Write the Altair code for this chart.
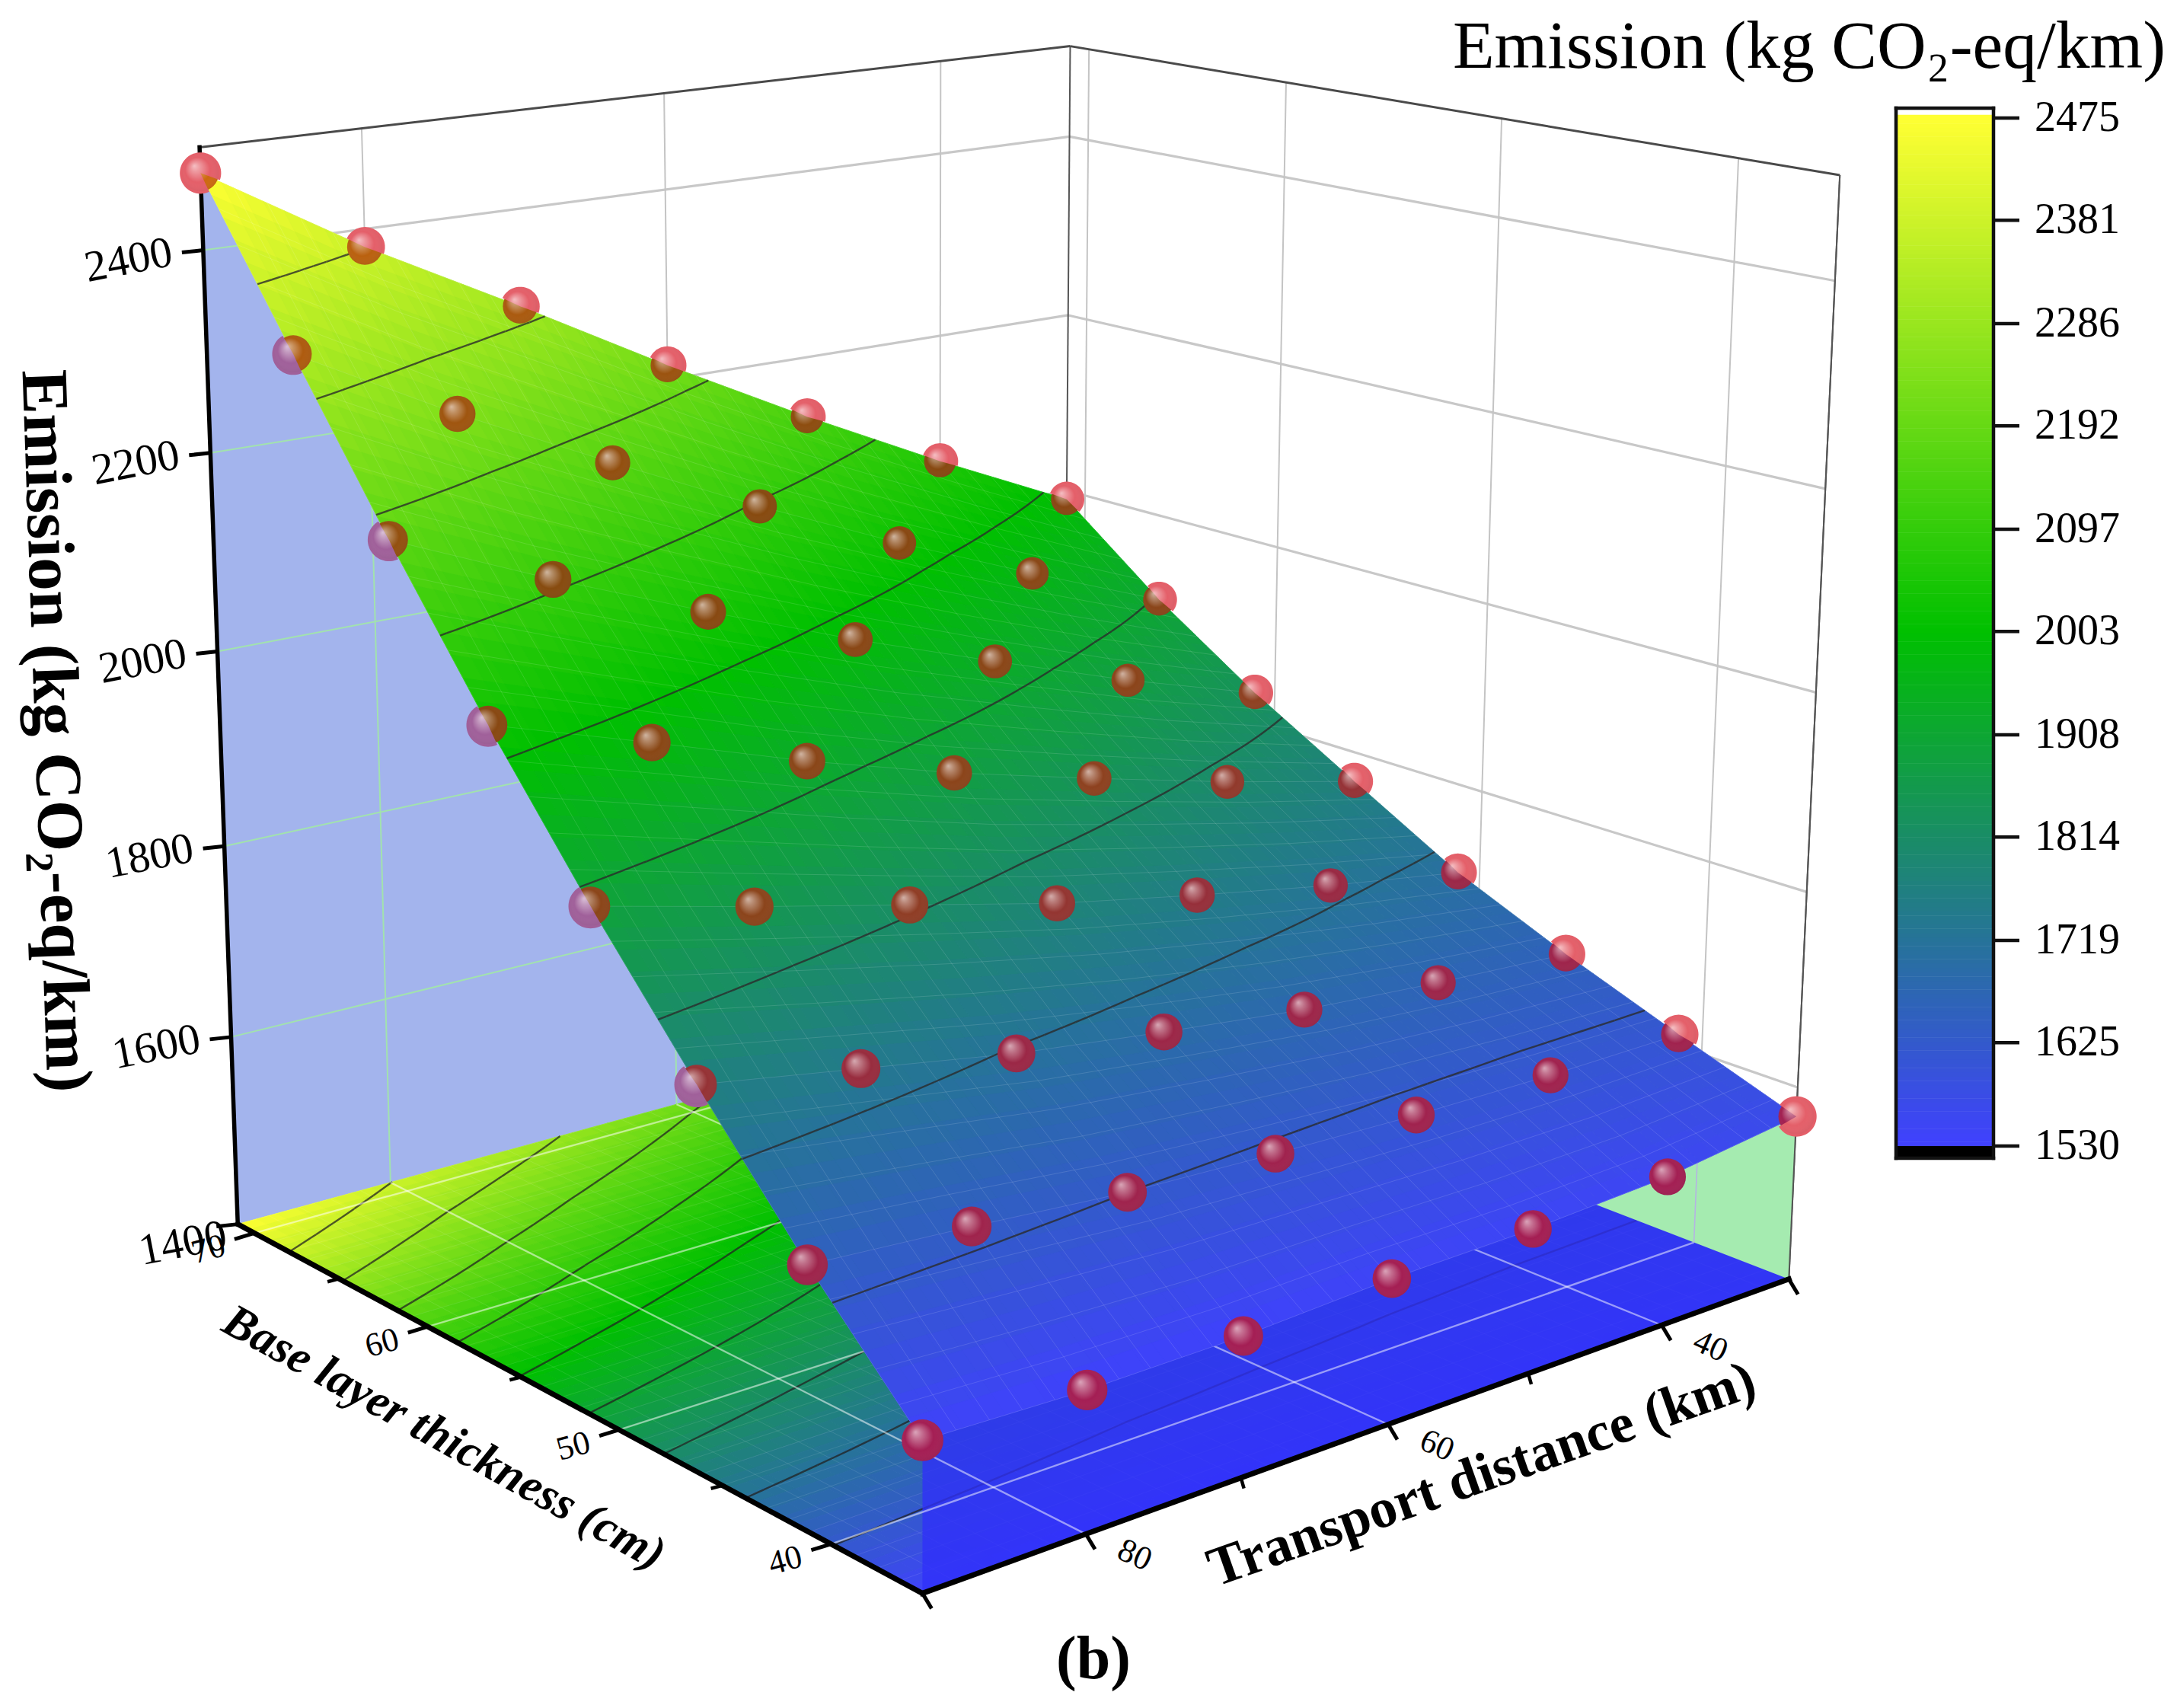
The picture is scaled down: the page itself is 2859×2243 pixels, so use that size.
import altair as alt
import numpy as np
import pandas as pd

# ---------- data ----------
TRANSPORT = [90, 80, 70, 60, 50, 40, 30]
THICKNESS = [71, 66, 61, 56, 51, 46, 41, 36]
E_71 = [2475, 2382, 2300, 2215, 2135, 2060, 1990]
E_66 = [2323, 2240, 2165, 2093, 2026, 1964, 1905]
E_61 = [2172, 2105, 2043, 1984, 1930, 1878, 1832]
E_56 = [2028, 1978, 1926, 1880, 1840, 1802, 1768]
E_51 = [1894, 1856, 1820, 1784, 1755, 1728, 1705]
E_46 = [1769, 1742, 1715, 1695, 1677, 1665, 1656]
E_41 = [1649, 1638, 1625, 1618, 1613, 1611, 1612]
E_36 = [1540, 1535, 1536, 1543, 1545, 1552, 1570]
EMISSION = np.array([E_71, E_66, E_61, E_56, E_51, E_46, E_41, E_36], float)
Z_TICKS = [2400, 2200, 2000, 1800, 1600, 1400]
T_MAJOR = [80, 60, 40]
T_MINOR = [70, 50]
B_MAJOR = [70, 60, 50, 40]
B_MINOR = [65, 55, 45]
BAR_TICKS = [2475, 2381, 2286, 2192, 2097, 2003, 1908, 1814, 1719, 1625, 1530]

# ---------- view of the 3D box ----------
CAMERA = np.array([
    [0.3411685354683661, 0.18839930951782624, 0.017199080461357256, -0.6796826403815752],
    [-0.03146208229411297, 0.039176098167953796, 0.38168638088282353, -0.4874792710496089],
    [3.645305119040625e-05, -4.33529491030292e-05, 1.4353076112809526e-05, -0.0005146028018720097]])
T0, T1, B0, B1, Z0, Z1 = 30, 90, 36, 71, 1400, 2500


def proj(t, b, z):
    h = CAMERA @ np.array([(t - 60) / 30, (b - 53.5) / 17.5, (z - 1950) / 550, 1.0])
    return float(h[0] / h[2]), float(h[1] / h[2]), float(abs(h[2]))


def xy(t, b, z):
    return list(proj(t, b, z)[:2])


def seg(a, b, dx=0, dy=0):
    p, q = xy(*a), xy(*b)
    return dict(x=p[0], y=p[1], x2=q[0] + dx, y2=q[1] + dy)


# bilinear read-out of the table, cell by cell, for the fine mesh
def E_at(t, b):
    u = np.clip((T1 - t) / 10, 0, 5.9999)
    v = np.clip((B1 - b) / 5, 0, 6.9999)
    j, i = int(u), int(v)
    fu, fv = u - j, v - i
    M = EMISSION
    return float(M[i, j] * (1 - fu) * (1 - fv) + M[i, j + 1] * fu * (1 - fv) + M[i + 1, j] * (1 - fu) * fv + M[i + 1, j + 1] * fu * fv)


N = 8
ts_f = np.linspace(T1, T0, 6 * N + 1)
bs_f = np.linspace(B1, B0, 7 * N + 1)
E_f = np.array([[E_at(t, b) for t in ts_f] for b in bs_f])


def poly(points, **props):
    pts = list(points) + [points[0]]
    return dict(type="Feature", properties=props, geometry=dict(type="Polygon", coordinates=[pts]))


surf_feats, floor_feats = [], []
for i in range(len(bs_f) - 1):
    for j in range(len(ts_f) - 1):
        e = float(E_f[i:i + 2, j:j + 2].mean())
        c = [(i, j), (i, j + 1), (i + 1, j + 1), (i + 1, j)]
        surf_feats.append(poly([xy(ts_f[b], bs_f[a], E_f[a, b]) for a, b in c], E=e))
        floor_feats.append(poly([xy(ts_f[b], bs_f[a], Z0) for a, b in c], E=e))


def contours(floor=False):
    rows = []
    for tick in BAR_TICKS[1:-1]:
        lev = tick + 0.0137  # keeps a level from landing exactly on a mesh vertex
        for i in range(len(bs_f) - 1):
            for j in range(len(ts_f) - 1):
                c = [(i, j), (i, j + 1), (i + 1, j + 1), (i + 1, j)]
                pts = []
                for k in range(4):
                    a, b = c[k], c[(k + 1) % 4]
                    ea, eb = E_f[a], E_f[b]
                    if (ea - lev) * (eb - lev) < 0:
                        f = (lev - ea) / (eb - ea)
                        t = ts_f[a[1]] + f * (ts_f[b[1]] - ts_f[a[1]])
                        bb = bs_f[a[0]] + f * (bs_f[b[0]] - bs_f[a[0]])
                        pts.append(xy(t, bb, Z0 if floor else lev))
                if len(pts) >= 2:
                    rows.append(dict(x=pts[0][0], y=pts[0][1], x2=pts[1][0], y2=pts[1][1]))
    return rows


def mesh(floor=False):
    rows = []
    tk = np.linspace(T1, T0, 31)
    bk = np.linspace(B1, B0, 36)
    zf = (lambda t, b: Z0) if floor else E_at
    for b in bk:
        for a, c in zip(TRANSPORT[:-1], TRANSPORT[1:]):
            rows.append(seg((a, b, zf(a, b)), (c, b, zf(c, b))))
    for t in tk:
        for a, c in zip(THICKNESS[:-1], THICKNESS[1:]):
            rows.append(seg((t, a, zf(t, a)), (t, c, zf(t, c))))
    return rows


# ---------- scales: plain page coordinates, less the 8px page margin ----------
W, H = 2859, 2243
sx = alt.Scale(domain=[8, W - 8], nice=False, zero=False)
sy = alt.Scale(domain=[H - 8, 8], nice=False, zero=False)
PROJ = dict(type="identity", scale=1, translate=[-8, -8])
cmap = alt.Scale(domain=[1530, 2003, 2475], range=["#4040ff", "#00c000", "#ffff33"], clamp=True, interpolate="rgb")
FONT = "Liberation Serif"


def rules(rows, color, width, opacity=1.0, cap="butt"):
    return alt.Chart(pd.DataFrame(rows)).mark_rule(color=color, strokeWidth=width, opacity=opacity, strokeCap=cap).encode(
        x=alt.X("x:Q", scale=sx, axis=None), y=alt.Y("y:Q", scale=sy, axis=None), x2="x2:Q", y2="y2:Q")


def shapes(feats, layer_opacity=1.0, stroke=True):
    ch = alt.Chart(alt.Data(values=feats)).mark_geoshape(opacity=layer_opacity, strokeWidth=1.0 if stroke else 0).project(**PROJ)
    enc = dict(color=alt.Color("properties.E:Q", scale=cmap, legend=None))
    if stroke:
        enc["stroke"] = alt.Stroke("properties.E:Q", scale=cmap, legend=None)
    return ch.encode(**enc)


def flat(feats, fill, opacity=1.0):
    return alt.Chart(alt.Data(values=feats)).mark_geoshape(fill=fill, stroke=None, opacity=opacity).project(**PROJ)


def text(rows, size, angle=0, weight="normal", style="normal", align="center"):
    return alt.Chart(pd.DataFrame(rows)).mark_text(
        font=FONT, fontSize=size, angle=angle % 360, fontWeight=weight, fontStyle=style, align=align, baseline="middle", color="black"
    ).encode(x=alt.X("x:Q", scale=sx, axis=None), y=alt.Y("y:Q", scale=sy, axis=None), text="s:N")


layers = []

# --- back walls
wall = []
for z in Z_TICKS[:-1]:
    wall.append(seg((T1, B1, z), (T0, B1, z)))
    wall.append(seg((T0, B1, z), (T0, B0, z)))
layers.append(rules(wall, "#c8c8c8", 3.2))
wall_v = [seg((t, B1, Z0), (t, B1, Z1)) for t in T_MAJOR] + [seg((T0, b, Z0), (T0, b, Z1)) for b in B_MAJOR]
layers.append(rules(wall_v, "#c4c4c4", 2))
layers.append(rules([seg((T0, B1, Z0), (T0, B1, Z1)), seg((T0, B0, Z0), (T0, B0, Z1))], "#555555", 2))
layers.append(rules([seg((T1, B1, Z1), (T0, B1, Z1)), seg((T0, B1, Z1), (T0, B0, Z1))], "#4a4a4a", 3))

# --- projection of the surface edge on the left wall
left_wall = [xy(t, B1, e) for t, e in zip(TRANSPORT, EMISSION[0])] + [xy(T0, B1, Z0), xy(T1, B1, Z0)]
right_wall = [xy(T0, b, e) for b, e in zip(THICKNESS, EMISSION[:, -1])] + [xy(T0, B0, Z0), xy(T0, B1, Z0)]
layers.append(flat([poly(left_wall)], "#a3b4ed"))

edge_t = np.array(TRANSPORT[::-1], float)
edge_e = EMISSION[0][::-1]
edge_b = np.array(THICKNESS[::-1], float)
edge_r = EMISSION[:, -1][::-1]
greens, lav = [], []
for z in Z_TICKS[:-1]:
    if z < edge_e.max():
        tz = float(np.interp(z, edge_e, edge_t)) if z > edge_e.min() else T0
        greens.append(seg((tz, B1, z), (T1, B1, z)))
    if z < edge_r.max():
        bz = float(np.interp(z, edge_r, edge_b)) if z > edge_r.min() else B0
        lav.append(seg((T0, bz, z), (T0, B1, z)))
for t in T_MAJOR:
    greens.append(seg((t, B1, Z0), (t, B1, E_at(t, B1))))
for b in B_MAJOR:
    lav.append(seg((T0, b, Z0), (T0, b, E_at(T0, b))))
layers.append(rules(greens, "#a2e2ae", 2))

# --- floor map
layers.append(shapes(floor_feats))
layers.append(rules(mesh(True), "#ffffff", 1, 0.10))
layers.append(rules(contours(True), "#222222", 2.4, 0.75))

# --- skirt along the thin edge
skirt = [xy(t, B0, e) for t, e in zip(TRANSPORT, EMISSION[-1])] + [xy(T0, B0, Z0), xy(T1, B0, Z0)]
layers.append(flat([poly(skirt)], "#3030f8", 0.78))
floor_grid = [seg((t, B0, Z0), (t, B1, Z0)) for t in T_MAJOR] + [seg((T0, b, Z0), (T1, b, Z0)) for b in B_MAJOR]
layers.append(rules(floor_grid, "#ffffff", 2.4, 0.5))

# --- projection on the right wall, painted after the skirt
layers.append(flat([poly(right_wall)], "#a5ebb0"))
layers.append(rules(lav, "#b4b4e2", 1.6))
layers.append(rules([seg((T0, B0, Z0), (T0, B0, Z1))], "#555555", 2))

# --- axes
layers.append(rules([seg((T1, B1, Z1), (T1, B1, Z0))], "black", 5.5, cap="square"))
layers.append(rules([seg((T1, B1, Z0), (T1, B0, Z0)), seg((T1, B0, Z0), (T0, B0, Z0))], "black", 7, cap="square"))
ticks = [seg((T1, B1, z), (T1, B1, z), -28, 3) for z in Z_TICKS]
ticks += [seg((t, B0, Z0), (t, B0, Z0), 12, 20) for t in T_MAJOR + [T1, T0]]
ticks += [seg((T1, b, Z0), (T1, b, Z0), -26, 8) for b in B_MAJOR]
layers.append(rules(ticks, "black", 5))
minor = [seg((t, B0, Z0), (t, B0, Z0), 4, 14) for t in T_MINOR]
minor += [seg((T1, b, Z0), (T1, b, Z0), -15, 4) for b in B_MINOR]
layers.append(rules(minor, "black", 4.5))

# --- surface
layers.append(shapes(surf_feats))
layers.append(rules(mesh(False), "#ffffff", 1, 0.13))
layers.append(rules(contours(False), "#2a2a2a", 2.4, 0.8))

# --- spheres
outline = ([xy(t, B1, e) for t, e in zip(TRANSPORT, EMISSION[0])]
           + [xy(T0, b, e) for b, e in zip(THICKNESS, EMISSION[:, -1])]
           + [xy(t, B0, e) for t, e in zip(TRANSPORT[::-1], EMISSION[-1][::-1])]
           + [xy(T1, b, e) for b, e in zip(THICKNESS[::-1], EMISSION[:, 0][::-1])])


def inside(p):
    c = False
    for a, b in zip(outline, outline[1:] + outline[:1]):
        if (a[1] > p[1]) != (b[1] > p[1]) and p[0] < a[0] + (p[1] - a[1]) * (b[0] - a[0]) / (b[1] - a[1]):
            c = not c
    return c


def under_colour(e):
    es = [1530, 1719, 1850, 2100, 2300, 2475]
    rs = [165, 155, 140, 135, 170, 205]
    gs = [30, 40, 68, 75, 90, 105]
    bs = [85, 70, 28, 15, 15, 15]
    return "#%02x%02x%02x" % (int(np.interp(e, es, rs)), int(np.interp(e, es, gs)), int(np.interp(e, es, bs)))


SPHERE_K = 0.01376
spheres, pink, mauve = [], [], []
for i, b in enumerate(THICKNESS):
    for j, t in enumerate(TRANSPORT):
        e = EMISSION[i, j]
        x, y, w = proj(t, b, e)
        r = SPHERE_K / w
        spheres.append(dict(x=x, y=y, area=np.pi * r * r, c=under_colour(e), E=e))
        top_or_right = (b == B1) or (t == T0)
        left_col = (t == T1) and not top_or_right and b >= 46
        if top_or_right or left_col:
            ang = np.linspace(0, 2 * np.pi, 73)[:-1]
            ring = [[x + r * np.cos(a), y + r * np.sin(a)] for a in ang]
            out = [not inside(p) for p in ring]
            if any(out) and not all(out):
                k = next(q for q in range(72) if out[q] and not out[q - 1])
                ring = ring[k:] + ring[:k]
                out = out[k:] + out[:k]
                arc = [p for p, o in zip(ring, out) if o]
                (pink if top_or_right else mauve).append(poly([[x, y]] + arc))
sdf = pd.DataFrame(spheres)
pos = dict(x=alt.X("x:Q", scale=sx, axis=None), y=alt.Y("y:Q", scale=sy, axis=None),
           size=alt.Size("area:Q", scale=None, legend=None))
layers.append(alt.Chart(sdf).mark_circle(opacity=1).encode(fill=alt.Fill("c:N", scale=None, legend=None), **pos))
layers.append(flat(pink, "#e45f69"))
layers.append(flat(mauve, "#a0609a"))
gloss = {"gradient": "radial", "x1": 0.33, "y1": 0.3, "r1": 0, "x2": 0.5, "y2": 0.5, "r2": 0.62,
         "stops": [{"offset": 0, "color": "rgba(255,255,255,0.6)"}, {"offset": 0.2, "color": "rgba(255,255,255,0.36)"},
                   {"offset": 0.55, "color": "rgba(255,255,255,0)"}, {"offset": 1, "color": "rgba(0,0,0,0.1)"}]}
layers.append(alt.Chart(sdf).mark_circle(opacity=1, color=gloss).encode(**pos))

# --- colour bar
BAR_L, BAR_R, BAR_TOP, BAR_END, Y2475, Y1530 = 2490, 2618, 142, 1521, 155, 1505


def bar_y(e):
    return Y2475 + (2475 - e) / 945 * (Y1530 - Y2475)


strip = np.arange(1530, 2475, 4.0)
bar = pd.DataFrame(dict(E=strip + 2, x=BAR_L, x2=BAR_R, y=[bar_y(e + 4) for e in strip], y2=[bar_y(e) + 0.5 for e in strip]))
layers.append(alt.Chart(bar).mark_rect().encode(
    x=alt.X("x:Q", scale=sx, axis=None), x2="x2:Q", y=alt.Y("y:Q", scale=sy, axis=None), y2="y2:Q",
    color=alt.Color("E:Q", scale=cmap, legend=None)))
layers.append(alt.Chart(pd.DataFrame([dict(x=BAR_L, x2=BAR_R, y=Y1530, y2=BAR_END)])).mark_rect(color="black").encode(
    x=alt.X("x:Q", scale=sx, axis=None), x2="x2:Q", y=alt.Y("y:Q", scale=sy, axis=None), y2="y2:Q"))
frame = [dict(x=BAR_L, y=BAR_TOP, x2=BAR_R, y2=BAR_TOP), dict(x=BAR_L, y=BAR_END, x2=BAR_R, y2=BAR_END),
         dict(x=BAR_L, y=BAR_TOP, x2=BAR_L, y2=BAR_END), dict(x=BAR_R, y=BAR_TOP, x2=BAR_R, y2=BAR_END)]
layers.append(rules(frame, "#111111", 4.5, cap="square"))
layers.append(rules([dict(x=BAR_R, y=bar_y(e), x2=BAR_R + 34, y2=bar_y(e)) for e in BAR_TICKS], "#111111", 4.5))
layers.append(text([dict(x=BAR_R + 54, y=bar_y(e), s=str(e)) for e in BAR_TICKS], 56, align="left"))

# --- tick labels
layers.append(text([dict(x=xy(T1, B1, z)[0] - (72 if z == 1400 else 98), y=xy(T1, B1, z)[1] + (26 if z == 1400 else 14), s=str(z)) for z in Z_TICKS], 58, angle=-11))
layers.append(text([dict(x=xy(T1, b, Z0)[0] - 60, y=xy(T1, b, Z0)[1] + 22, s=str(b)) for b in B_MAJOR], 44, angle=-15))
layers.append(text([dict(x=xy(t, B0, Z0)[0] + 64, y=xy(t, B0, Z0)[1] + 28, s=str(t)) for t in T_MAJOR], 44, angle=24))

# --- titles
layers.append(text([dict(x=72, y=960, s="Emission (kg CO\u2082-eq/km)")], 87, angle=88, weight="bold"))
layers.append(text([dict(x=583, y=1888, s="Base layer thickness (cm)")], 62, angle=29, weight="bold", style="italic"))
layers.append(text([dict(x=1946, y=1937, s="Transport distance (km)")], 73, angle=-19.5, weight="bold"))
layers.append(text([dict(x=2376, y=62, s="Emission (kg CO\u2082-eq/km)")], 89.5))
layers.append(text([dict(x=1436, y=2180, s="(b)")], 80, weight="bold"))

chart = alt.layer(*layers).properties(width=W - 16, height=H - 16, padding=0, background="white").configure_view(stroke=None)
chart.save("out.html", embed_options={"renderer": "svg", "actions": False})
